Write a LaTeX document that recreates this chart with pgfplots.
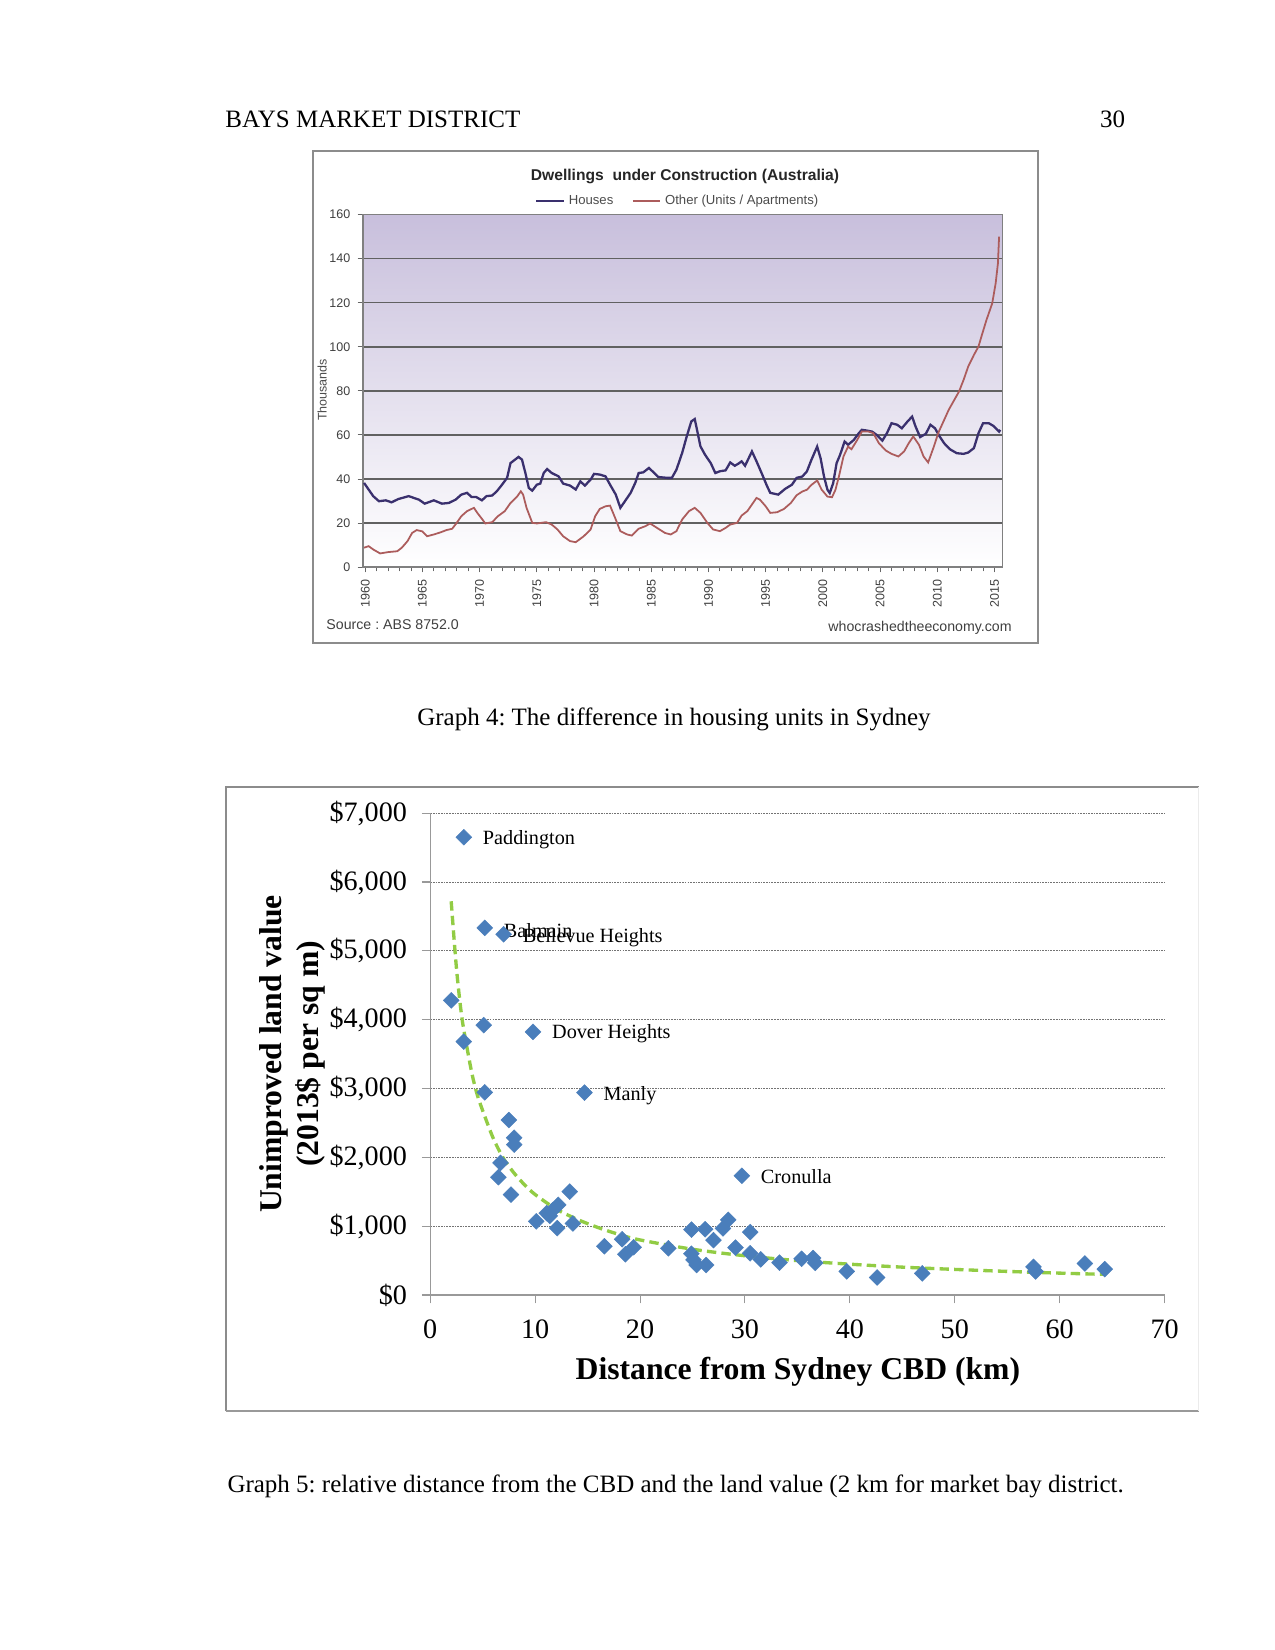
\documentclass[border=0pt]{standalone}
\usepackage{fontspec}
\setmainfont{Liberation Serif}
\newfontfamily\arial{Liberation Sans}
\usepackage{pgfplots}
\pgfplotsset{compat=1.18}
\usepackage{pgfplotstable}
\definecolor{houses}{RGB}{58,48,110}
\definecolor{other}{RGB}{172,92,92}
\definecolor{lavtop}{RGB}{200,191,220}
\definecolor{lavmid}{RGB}{228,223,238}
\definecolor{markblue}{RGB}{74,126,187}
\definecolor{trendgreen}{RGB}{146,204,68}

\pgfplotstableread{
year v
1959.9 38.2
1960.3 35.2
1960.7 32.2
1961.2 29.9
1961.8 30.3
1962.3 29.4
1962.9 30.9
1963.8 32.2
1964.7 30.6
1965.2 28.8
1966.0 30.3
1966.7 28.8
1967.3 29.1
1967.9 30.6
1968.4 32.9
1968.9 33.7
1969.3 31.8
1969.7 31.8
1970.2 30.3
1970.6 32.2
1971.1 32.5
1971.5 34.4
1971.9 37.0
1972.4 40.5
1972.7 47.2
1973.1 48.8
1973.4 50.0
1973.7 48.8
1974.0 42.7
1974.3 35.9
1974.6 34.7
1975.0 37.4
1975.3 37.9
1975.6 42.7
1975.9 44.5
1976.3 42.7
1976.9 41.2
1977.3 37.9
1977.9 37.0
1978.4 35.2
1978.8 38.9
1979.2 37.0
1979.7 39.7
1980.0 42.3
1980.5 42.0
1981.0 41.2
1981.4 37.4
1981.9 32.9
1982.3 26.9
1982.7 29.9
1983.2 33.7
1983.6 38.2
1983.9 42.7
1984.3 43.0
1984.8 45.0
1985.2 43.0
1985.6 40.9
1986.4 40.5
1986.8 40.5
1987.2 44.2
1987.7 51.8
1988.1 59.3
1988.5 66.1
1988.8 67.2
1989.0 62.3
1989.3 54.8
1989.7 51.0
1990.2 47.2
1990.6 42.7
1991.0 43.5
1991.5 43.9
1991.9 47.5
1992.3 46.0
1992.6 46.9
1992.9 48.0
1993.2 46.0
1993.8 52.5
1994.2 48.0
1994.7 42.0
1995.1 37.0
1995.4 33.7
1996.1 32.9
1996.7 35.5
1997.3 37.4
1997.7 40.5
1998.2 41.1
1998.6 43.4
1999.0 48.7
1999.5 54.7
1999.8 49.4
2000.1 41.1
2000.4 35.1
2000.6 33.6
2000.9 38.1
2001.2 47.2
2001.5 50.9
2001.9 57.0
2002.2 55.5
2002.7 57.7
2003.1 60.5
2003.4 62.3
2003.8 62.0
2004.3 61.5
2004.7 60.0
2005.2 57.4
2005.6 60.8
2006.0 65.3
2006.5 64.6
2006.9 63.0
2007.4 66.1
2007.8 68.3
2008.1 63.8
2008.5 59.0
2009.0 60.5
2009.4 64.6
2009.8 63.0
2010.2 59.3
2010.6 56.2
2011.1 53.5
2011.7 51.7
2012.3 51.4
2012.7 52.0
2013.2 54.0
2013.6 60.8
2014.0 65.3
2014.5 65.3
2014.9 64.1
2015.4 61.5
2015.5 62.3
}\houses

\pgfplotstableread{
year v
1959.9 8.8
1960.3 9.5
1960.7 8.0
1961.3 6.2
1962.0 6.8
1962.8 7.2
1963.2 8.8
1963.7 11.8
1964.1 15.5
1964.5 16.8
1965.0 16.2
1965.4 14.0
1966.0 14.8
1966.6 15.8
1967.1 16.8
1967.6 17.4
1968.0 20.1
1968.4 23.1
1968.9 25.4
1969.5 26.9
1969.8 24.6
1970.2 21.9
1970.5 19.8
1971.1 20.4
1971.6 23.1
1972.2 25.4
1972.7 29.1
1973.3 32.2
1973.6 34.4
1973.8 32.9
1974.1 26.9
1974.6 20.1
1975.0 19.8
1975.8 20.4
1976.3 19.3
1976.8 17.1
1977.3 14.0
1977.9 11.8
1978.4 11.3
1979.1 14.0
1979.7 17.1
1980.1 23.1
1980.5 26.4
1981.0 27.6
1981.4 27.9
1981.9 21.6
1982.3 16.3
1982.9 14.8
1983.3 14.3
1983.9 17.4
1984.5 18.6
1984.9 19.8
1985.5 17.8
1986.2 15.5
1986.7 14.8
1987.2 16.3
1987.7 21.6
1988.3 25.4
1988.8 26.9
1989.3 24.6
1989.9 20.1
1990.4 17.1
1991.0 16.3
1991.5 17.8
1991.9 19.3
1992.5 20.1
1992.9 23.4
1993.4 25.4
1993.8 28.4
1994.2 31.4
1994.5 30.6
1995.0 27.6
1995.4 24.6
1996.0 24.9
1996.6 26.4
1997.2 29.1
1997.7 32.6
1998.2 34.3
1998.6 35.1
1999.0 37.3
1999.5 39.3
1999.9 35.1
2000.4 32.0
2000.8 31.7
2001.1 35.1
2001.4 41.1
2001.8 50.2
2002.2 54.7
2002.5 53.5
2003.0 57.7
2003.4 61.5
2004.0 61.5
2004.4 60.8
2004.9 56.2
2005.5 52.9
2006.0 51.4
2006.6 50.2
2007.1 52.5
2007.5 56.2
2007.9 59.3
2008.4 55.5
2008.8 50.2
2009.2 47.5
2009.7 54.7
2010.1 61.1
2010.6 66.8
2011.0 71.4
2011.4 75.1
2011.9 79.7
2012.3 85.0
2012.7 91.0
2013.2 96.3
2013.6 100.1
2013.9 105.4
2014.3 112.2
2014.8 119.7
2015.1 128.8
2015.3 137.9
2015.4 150.0
}\other

\pgfplotstableread{
d v
3.2 6650
5.2 5334
7.0 5240
2.0 4280
3.2 3682
5.1 3920
9.8 3823
5.2 2945
14.7 2940
7.5 2542
8.0 2285
8.0 2185
6.7 1920
6.5 1712
7.7 1458
13.3 1502
29.7 1732
10.1 1070
11.1 1190
11.4 1150
11.7 1235
12.2 1310
12.1 972
13.6 1040
16.6 708
18.3 810
18.6 592
19.4 694
22.7 678
24.9 950
26.2 955
27.9 968
28.4 1092
27.0 796
30.5 914
24.9 600
25.1 510
25.4 436
26.3 436
29.1 688
30.5 606
31.5 518
33.3 470
35.4 526
36.5 537
36.7 466
39.7 344
42.6 255
46.9 314
57.5 410
57.7 342
62.4 458
64.3 376
}\land

\pgfplotstableread{
d v
2.0 5720
2.5 4750
3.0 4050
3.5 3600
4.0 3200
4.5 2900
5.0 2680
6.0 2280
7.0 1980
8.0 1770
9.0 1600
10.0 1460
12.0 1250
14.0 1100
16.0 980
18.0 880
20.0 800
25.0 665
30.0 570
35.0 500
40.0 448
45.0 405
50.0 372
55.0 343
60.0 318
64.3 300
}\trend

\begin{document}
\frenchspacing
\begin{tikzpicture}
\fill[white] (0pt,0pt) rectangle (612pt,-792pt);
\path[use as bounding box] (0pt,0pt) rectangle (612pt,-792pt);

% page header
\node[anchor=base west, inner sep=0pt, font=\fontsize{12}{14}\selectfont] at (108pt,-61pt) {BAYS MARKET DISTRICT};
\node[anchor=base east, inner sep=0pt, font=\fontsize{12}{14}\selectfont] at (540.3pt,-61pt) {30};

% ---------- top chart ----------
\draw[black!45, line width=0.6pt] (150.2pt,-72.5pt) rectangle (498.2pt,-308.6pt);
\node[font=\arial\bfseries\fontsize{7.5}{9}\selectfont, text=black!85, inner sep=0pt] at (328.8pt,-84.8pt) {Dwellings\ \ under Construction (Australia)};
\node[rotate=90, font=\arial\fontsize{6}{7}\selectfont, text=black!70, inner sep=0pt] at (154.6pt,-187.2pt) {Thousands};
\node[anchor=base west, font=\arial\fontsize{6.8}{8}\selectfont, text=black!75, inner sep=0pt] at (156.5pt,-302pt) {Source : ABS 8752.0};
\node[anchor=base east, font=\arial\fontsize{6.8}{8}\selectfont, text=black!75, inner sep=0pt] at (485.8pt,-302.9pt) {whocrashedtheeconomy.com};

\begin{axis}[
  at={(174.2pt,-272.2pt)}, anchor=south west, scale only axis,
  width=307pt, height=169.2pt,
  xmin=1959.8, xmax=2015.7, ymin=0, ymax=160,
  ytick={0,20,...,160}, xtick={1960,1965,...,2015}, minor x tick num=4,
  ymajorgrids, major grid style={draw=black!62, line width=0.7pt},
  axis line style={draw=black!50, line width=0.6pt},
  tick style={draw=black!60, line width=0.4pt},
  tick align=outside, major tick length=2.5pt, minor tick length=2pt,
  xtick pos=bottom, ytick pos=left,
  /pgf/number format/.cd, 1000 sep={}, assume math mode=true, /pgfplots/.cd,
  ticklabel style={font=\arial\fontsize{6}{7}\selectfont, text=black!75},
  xticklabel style={rotate=90, anchor=east},
  axis background/.style={shade, top color=lavtop, middle color=lavmid, bottom color=white},
  legend style={at={(axis description cs:0.494,1)}, anchor=south, yshift=1.2pt,
    draw=none, fill=none, inner sep=0pt, font=\arial\fontsize{6.3}{7}\selectfont, text=black!70,
    /tikz/every even column/.append style={column sep=7pt}},
  legend columns=2,
  legend image code/.code={\draw[#1] (0pt,0pt)--(13pt,0pt);},
]
\addplot[houses, line width=1.1pt] table[x=year,y=v] {\houses};
\addlegendentry{Houses}
\addplot[other, line width=0.85pt] table[x=year,y=v] {\other};
\addlegendentry{Other (Units / Apartments)}
\end{axis}

\node[anchor=base, inner sep=0pt, font=\fontsize{12}{14}\selectfont] at (323.5pt,-348pt) {Graph 4: The difference in housing units in Sydney};

% ---------- bottom chart ----------
\draw[black!45, line width=1pt] (108.5pt,-677.3pt) -- (108.5pt,-377.8pt) -- (575.5pt,-377.8pt);
\draw[black!40, line width=0.7pt] (108.5pt,-677.3pt) -- (575.5pt,-677.3pt);
\draw[black!8, line width=0.5pt] (575.5pt,-377.8pt) -- (575.5pt,-677.3pt);

\node[rotate=90, align=center, font=\bfseries\fontsize{15.2}{17.8}\selectfont, inner sep=0pt] at (140.5pt,-505.9pt) {Unimproved land value\\(2013\$ per sq m)};
\node[font=\bfseries\fontsize{15.2}{17.8}\selectfont, inner sep=0pt] at (383pt,-658.6pt) {Distance from Sydney CBD (km)};

\begin{axis}[
  at={(206.5pt,-621.6pt)}, anchor=south west, scale only axis,
  width=352.5pt, height=231.3pt,
  xmin=0, xmax=70, ymin=0, ymax=7000,
  xtick={0,10,...,70}, ytick={0,1000,...,7000},
  yticklabels={\$0,{\$1,000},{\$2,000},{\$3,000},{\$4,000},{\$5,000},{\$6,000},{\$7,000}},
  axis x line*=bottom, axis y line*=left,
  axis line style={draw=black!40, line width=0.6pt},
  ymajorgrids, major grid style={draw=black!55, line width=0.35pt, dash pattern=on 0.8pt off 0.5pt},
  tick align=outside, major tick length=4pt, tick style={draw=black!40, line width=0.5pt},
  /pgf/number format/assume math mode=true,
  ticklabel style={font=\fontsize{13.5}{15}\selectfont},
  yticklabel style={anchor=east, inner sep=0pt, xshift=-7pt},
  xticklabel style={anchor=north, inner sep=0pt, yshift=-7.5pt},
  clip=false,
]
\addplot[trendgreen, line width=1.6pt, dash pattern=on 4.5pt off 2.5pt, smooth] table[x=d,y=v] {\trend};
\addplot[only marks, mark=square*, mark size=2.7pt, mark options={rotate=45, fill=markblue, draw=markblue, line width=0.2pt}] table[x=d,y=v] {\land};
\node[anchor=west, xshift=9pt, inner sep=0pt, font=\fontsize{9.7}{11}\selectfont] at (axis cs:3.2,6620) {Paddington};
\node[anchor=west, xshift=9pt, inner sep=0pt, font=\fontsize{9.7}{11}\selectfont] at (axis cs:5.2,5290) {Balmain};
\node[anchor=west, xshift=9pt, inner sep=0pt, font=\fontsize{9.7}{11}\selectfont] at (axis cs:7.0,5190) {Bellevue Heights};
\node[anchor=west, xshift=9pt, inner sep=0pt, font=\fontsize{9.7}{11}\selectfont] at (axis cs:9.8,3800) {Dover Heights};
\node[anchor=west, xshift=9pt, inner sep=0pt, font=\fontsize{9.7}{11}\selectfont] at (axis cs:14.7,2900) {Manly};
\node[anchor=west, xshift=9pt, inner sep=0pt, font=\fontsize{9.7}{11}\selectfont] at (axis cs:29.7,1720) {Cronulla};
\end{axis}

\node[anchor=base west, inner sep=0pt, font=\fontsize{12}{14}\selectfont] at (109pt,-716.5pt) {Graph 5: relative distance from the CBD and the land value (2 km for market bay district.};
\end{tikzpicture}
\end{document}
